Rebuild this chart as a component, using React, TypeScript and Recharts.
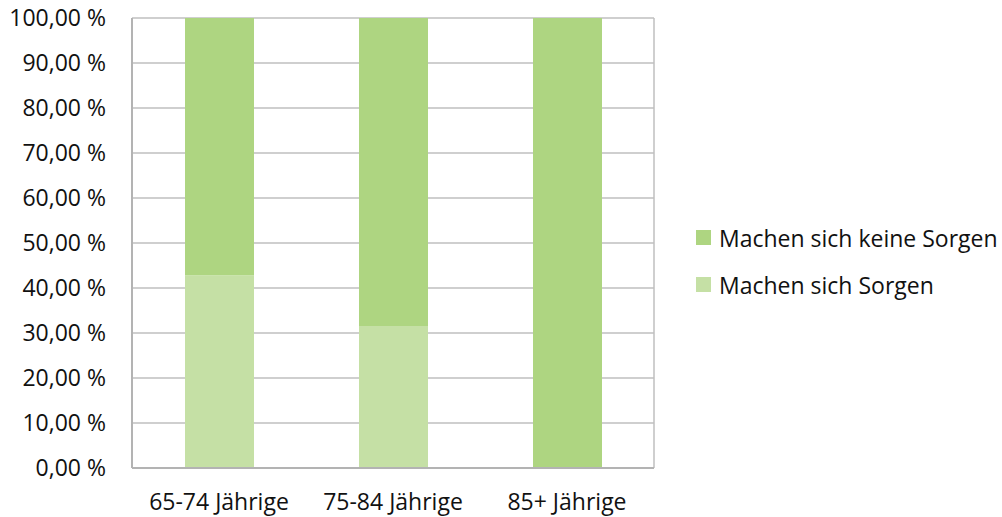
import React from "react";
import { BarChart, Bar, XAxis, YAxis, CartesianGrid, Legend } from "recharts";

// Age groups and the share of each answer (in percent)
const ageGroups = ["65-74 Jährige", "75-84 Jährige", "85+ Jährige"];
const worried = [42.86, 31.58, 0];
const notWorried = [57.14, 68.42, 100];
const yTicks = [0, 10, 20, 30, 40, 50, 60, 70, 80, 90, 100];

const DARK = "#AED581";
const LIGHT = "#C5E0A5";
const GRID = "#BFBFBF";
const FONT = "'Open Sans', sans-serif";
const TEXT = "#111";

const rows = ageGroups.map((group, i) => ({
  group,
  worried: worried[i],
  notWorried: notWorried[i],
}));

const legendItems = [
  { label: "Machen sich keine Sorgen", color: DARK },
  { label: "Machen sich Sorgen", color: LIGHT },
];

const formatPct = (v: number) => `${v.toFixed(2).replace(".", ",")} %`;

function LegendBox() {
  return (
    <div style={{ fontFamily: FONT, fontSize: 23, color: TEXT }}>
      {legendItems.map((it) => (
        <div
          key={it.label}
          style={{ display: "flex", alignItems: "center", height: 47 }}
        >
          <div
            style={{
              width: 15,
              height: 15,
              background: it.color,
              marginRight: 8,
              flexShrink: 0,
            }}
          />
          <span style={{ whiteSpace: "nowrap" }}>{it.label}</span>
        </div>
      ))}
    </div>
  );
}

export default function App() {
  return (
    <div style={{ position: "absolute", left: 0, top: 0, background: "#fff" }}>
      <BarChart
        width={1002}
        height={517}
        data={rows}
        margin={{ top: 18, right: 348, bottom: 0, left: 0 }}
      >
        <CartesianGrid
          stroke={GRID}
          strokeWidth={1.5}
          verticalCoordinatesGenerator={({ offset }: any) => [
            offset.left + offset.width,
          ]}
        />
        <XAxis
          dataKey="group"
          height={49}
          tickLine={false}
          tickSize={0}
          tickMargin={26}
          axisLine={{ stroke: "#B3B3B3", strokeWidth: 2 }}
          tick={{ fill: TEXT, fontFamily: FONT, fontSize: 23 }}
        />
        <YAxis
          width={132}
          domain={[0, 100]}
          ticks={yTicks}
          tickFormatter={formatPct}
          tickLine={false}
          tickSize={0}
          tickMargin={26}
          interval={0}
          axisLine={{ stroke: "#B3B3B3", strokeWidth: 2 }}
          tick={{ fill: TEXT, fontFamily: FONT, fontSize: 23 }}
        />
        <Legend
          layout="vertical"
          align="center"
          verticalAlign="middle"
          content={() => <LegendBox />}
          wrapperStyle={{ left: 696, top: 214, width: 306 }}
        />
        <Bar
          dataKey="worried"
          stackId="a"
          fill={LIGHT}
          barSize={69}
          isAnimationActive={false}
        />
        <Bar
          dataKey="notWorried"
          stackId="a"
          fill={DARK}
          barSize={69}
          isAnimationActive={false}
        />
      </BarChart>
    </div>
  );
}
